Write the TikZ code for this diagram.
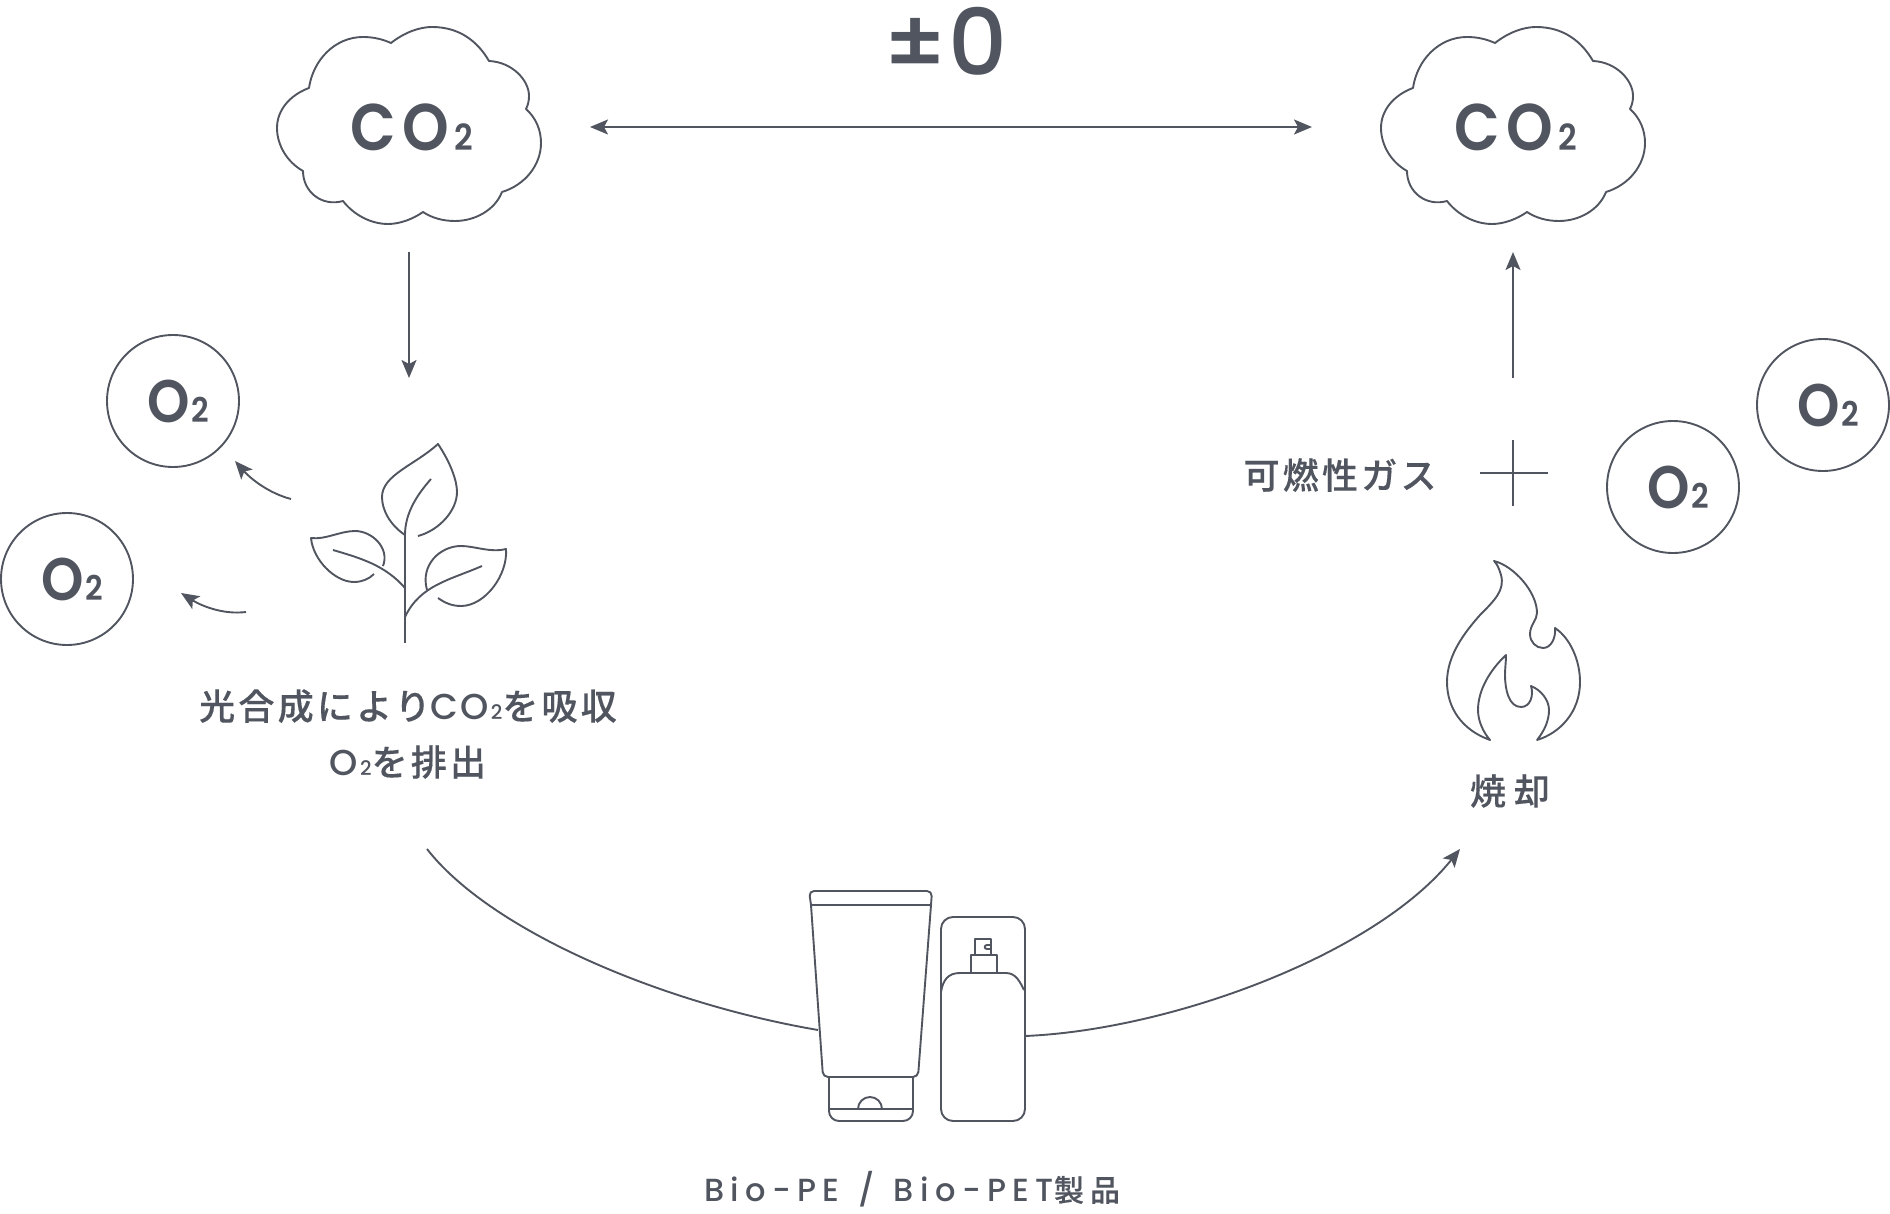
\documentclass[tikz,border=0pt]{standalone}
\usepackage{fontspec}
\usetikzlibrary{arrows.meta}
\setmainfont{Poppins}
\newfontfamily\latn[LetterSpace=6]{Poppins Medium}
\newfontfamily\plain{Poppins Medium}
\newfontfamily\head[FakeStretch=0.9]{Poppins SemiBold}
\newfontfamily\jp[LetterSpace=9,FakeBold=0.3]{Noto Sans CJK JP Medium}
\definecolor{ink}{HTML}{50555F}
\newcommand{\subtwo}[1]{{\fontsize{#1}{#1}\selectfont 2}}
\begin{document}
\begin{tikzpicture}[x=0.5pt, y=-0.5pt, >={Stealth[length=9pt, width=7.5pt, inset=2pt]}]
    \tikzset{
      line/.style={draw=ink, line width=0.95pt, line join=round},
      cotwo/.style={text=ink, font=\head\fontsize{33}{33}\selectfont, inner sep=0pt},
      gas/.style={circle, line, text=ink, minimum size=66pt, inner sep=0pt,
                  font=\head\fontsize{30}{30}\selectfont},
      label/.style={text=ink, align=center, inner sep=0pt,
                    font=\jp\fontsize{18}{28}\selectfont},
      cloudshape/.pic={
        \draw[line] (391,43) .. controls (405,32) and (420,27) .. (432,27)
          .. controls (460,27) and (478,42) .. (489,61)
          .. controls (512,62) and (529,80) .. (529,96)
          .. controls (529,101) and (528,105) .. (526,109)
          .. controls (536,118) and (541,130) .. (541,143)
          .. controls (541,165) and (525,185) .. (502,192)
          .. controls (495,210) and (475,221) .. (455,221)
          .. controls (443,221) and (432,218) .. (423,212)
          .. controls (413,219) and (400,224) .. (388,224)
          .. controls (370,224) and (353,214) .. (343,201)
          .. controls (322,207) and (303,192) .. (303,171)
          .. controls (287,162) and (277,145) .. (277,128)
          .. controls (277,110) and (290,95) .. (309,88)
          .. controls (313,60) and (335,37) .. (363,37)
          .. controls (373,37) and (382,39) .. (391,43) -- cycle;
      }
    }
    \useasboundingbox (0,0) rectangle (1890,1214);

    % Nubes
    \pic at (0,0) {cloudshape};
    \pic at (1104,0) {cloudshape};
    \node[cotwo] (co2L) at (412,127) {C\kern3pt O\kern3pt\subtwo{18pt}};
    \node[cotwo] (co2R) at (1516,127) {C\kern3pt O\kern3pt\subtwo{18pt}};
    \node[text=ink, inner sep=0pt, font=\plain\fontsize{46}{46}\selectfont] (zero) at (945,41) {±0};

    \node[gas] (o2a) at (173,401) {\kern5pt O\kern1pt\subtwo{17pt}};
    \node[gas] (o2b) at (67,579) {\kern5pt O\kern1pt\subtwo{17pt}};
    \node[gas] (o2c) at (1673,487) {\kern5pt O\kern1pt\subtwo{17pt}};
    \node[gas] (o2d) at (1823,405) {\kern5pt O\kern1pt\subtwo{17pt}};

    \node[label] (photo) at (408,734)
      {光合成により{\latn C\kern1pt O\kern1pt\subtwo{10pt}}を吸収\\{\latn O\kern1pt\subtwo{10pt}}を排出};
    \node[label] (fuel) at (1340,475) {可燃性ガス};
    \node[label] (burn) at (1510,791) {\addfontfeature{LetterSpace=22}焼却};
    \node[text=ink, inner sep=0pt, font=\fontsize{16}{16}\selectfont] (prod) at (912,1189)
      {\latn\addfontfeature{LetterSpace=20}Bio-PE\hspace{9.5pt}/\hspace{9.5pt}Bio-PET{\jp\fontsize{15}{15}\selectfont\addfontfeature{LetterSpace=20}製品}};

    % Planta
    \draw[line] (405,535) -- (405,643);
    \draw[line] (405,535) .. controls (390,525) and (382,510) .. (382,497)
      .. controls (382,475) and (415,465) .. (438,444)
      .. controls (450,462) and (457,480) .. (457,492)
      .. controls (457,510) and (440,530) .. (418,536);
    \draw[line] (405,535) .. controls (405,515) and (415,497) .. (431,479);
    \draw[line] (383,566) .. controls (390,548) and (372,531) .. (355,531)
      .. controls (340,531) and (325,540) .. (311,538)
      .. controls (313,560) and (335,582) .. (354,582)
      .. controls (362,582) and (369,579) .. (374,574);
    \draw[line] (333,550) .. controls (360,558) and (385,565) .. (405,588);
    \draw[line] (427,590) .. controls (420,565) and (440,546) .. (461,546)
      .. controls (475,546) and (490,553) .. (506,549)
      .. controls (508,575) and (485,606) .. (461,606)
      .. controls (452,606) and (445,603) .. (438,598);
    \draw[line] (482,566) .. controls (450,580) and (420,585) .. (405,617);

    % Llama
    \draw[line] (1494,561) .. controls (1514,566) and (1537,592) .. (1537,613)
      .. controls (1537,620) and (1530,625) .. (1530,634)
      .. controls (1530,642) and (1536,648) .. (1543,648)
      .. controls (1551,648) and (1556,638) .. (1555,628)
      .. controls (1570,638) and (1580,660) .. (1580,682)
      .. controls (1580,712) and (1560,733) .. (1537,740)
      .. controls (1545,730) and (1549,720) .. (1549,710)
      .. controls (1549,700) and (1541,690) .. (1531,686)
      .. controls (1534,696) and (1530,707) .. (1521,707)
      .. controls (1509,707) and (1505,690) .. (1505,675)
      .. controls (1505,668) and (1506,662) .. (1506,655)
      .. controls (1490,670) and (1478,690) .. (1478,710)
      .. controls (1478,722) and (1484,733) .. (1490,740)
      .. controls (1462,730) and (1447,708) .. (1447,682)
      .. controls (1447,655) and (1465,632) .. (1480,615)
      .. controls (1495,600) and (1505,590) .. (1501,575)
      .. controls (1499,568) and (1497,564) .. (1494,561) -- cycle;

    % Tubo
    \draw[line, rounded corners=2.5pt] (811,905) -- (809,891) -- (932,891) -- (931,905);
    \draw[line] (811,905) -- (931,905);
    \draw[line, rounded corners=2.5pt] (811,905) -- (823,1077) -- (918,1077) -- (931,905);
    \draw[line, rounded corners=5pt] (829,1077) -- (829,1121) -- (913,1121) -- (913,1077);
    \draw[line] (829,1109) -- (913,1109);
    \draw[line] (858,1109) arc (180:360:12);

    % Frasco
    \draw[line, rounded corners=6pt] (941,917) rectangle (1025,1121);
    \draw[line] (941,992) .. controls (943,980) and (948,973) .. (960,973)
      -- (1006,973) .. controls (1016,973) and (1020,982) .. (1024,990);
    \draw[line] (971,973) -- (971,955) -- (997,955) -- (997,973);
    \draw[line] (975,955) -- (975,939) -- (991,939) -- (991,955);
    \draw[line] (991,945) -- (987,945) .. controls (984,945) and (984,949) .. (987,949) -- (991,949);

    % Flechas
    \coordinate (topL) at (590,127);
    \coordinate (topR) at (1312,127);
    \coordinate (downA) at (409,252);
    \coordinate (downB) at (409,378);
    \coordinate (upA) at (1513,378);
    \coordinate (upB) at (1513,252);
    \coordinate (plusW) at (1480,473);
    \coordinate (plusE) at (1548,473);
    \coordinate (plusN) at (1513,440);
    \coordinate (plusS) at (1513,506);
    \coordinate (leafA) at (291,499);
    \coordinate (tipA) at (235,461);
    \coordinate (leafB) at (246,612);
    \coordinate (tipB) at (181,593);
    \coordinate (arcA) at (427,849);
    \coordinate (arcB) at (818,1030);
    \coordinate (arcC) at (1025,1036);
    \coordinate (arcD) at (1460,849);

    \draw[line, <->] (topL) -- (topR);
    \draw[line, ->] (downA) -- (downB);
    \draw[line, ->] (upA) -- (upB);
    \draw[line] (plusW) -- (plusE);
    \draw[line] (plusN) -- (plusS);
    \draw[line, ->] (leafA) .. controls (268,493) and (250,478) .. (tipA);
    \draw[line, ->] (leafB) .. controls (222,615) and (200,605) .. (tipB);
    \draw[line] (arcA) .. controls (490,930) and (660,1003) .. (arcB);
    \draw[line, ->] (arcC) .. controls (1170,1030) and (1375,955) .. (arcD);
\end{tikzpicture}
\end{document}
